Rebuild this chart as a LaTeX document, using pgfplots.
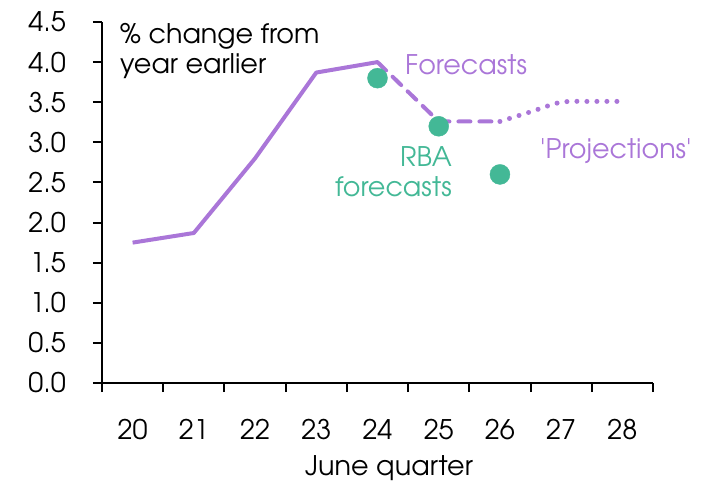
\documentclass[border=0pt]{standalone}
\usepackage{pgfplots}
\pgfplotsset{compat=1.18}
\usepackage{fontspec}
\setmainfont{TeX Gyre Adventor}
\definecolor{lpurple}{RGB}{170,118,216}
\definecolor{rbagreen}{RGB}{67,184,150}
\begin{document}
\fontsize{27}{34}\selectfont
\begin{tikzpicture}
\useasboundingbox (-102pt,-97pt) rectangle (610pt,383pt);
\begin{axis}[
  at={(0pt,0pt)}, anchor=south west,
  scale only axis, width=551pt, height=361pt,
  xmin=19.5, xmax=28.5, ymin=0, ymax=4.5,
  axis x line=bottom, axis y line=left,
  axis line style={-, line width=2pt, black},
  xtick={19.5,20.5,21.5,22.5,23.5,24.5,25.5,26.5,27.5,28.5},
  xticklabels={},
  extra x ticks={20,21,22,23,24,25,26,27,28},
  extra x tick labels={20,21,22,23,24,25,26,27,28},
  extra x tick style={tick style={draw=none}, xticklabel style={anchor=north, inner sep=0pt, yshift=-27pt}},
  ytick={0,0.5,1,1.5,2,2.5,3,3.5,4,4.5},
  yticklabel style={anchor=east, inner sep=0pt, xshift=-27pt, /pgf/number format/.cd, fixed, fixed zerofill, precision=1},
  tick align=outside, major tick length=9pt,
  tick style={black, line width=2pt},
  /pgf/number format/assume math mode=true,
  clip=false,
]
\addplot[lpurple, line width=4pt, line join=round] coordinates {(20,1.75)(21,1.87)(22,2.8)(23,3.87)(24,4.0)};
\addplot[lpurple, line width=4pt, dash pattern=on 12pt off 9pt, line cap=round, line join=round] coordinates {(24,4.0)(25,3.26)(26,3.26)};
\addplot[lpurple, line width=5pt, line cap=round, dash pattern=on 0pt off 10pt, smooth, tension=0.5] coordinates {(26,3.26)(26.5,3.38)(27,3.5)(27.5,3.51)(28,3.51)};
\addplot[only marks, mark=*, mark size=10pt, color=rbagreen, mark options={draw=none, fill=rbagreen}] coordinates {(24,3.8)(25,3.2)(26,2.6)};
\end{axis}
\node[anchor=base west, inner sep=0pt] at (18pt,339.7pt) {\% change from};
\node[anchor=base west, inner sep=0pt] at (18pt,309.7pt) {year earlier};
\node[anchor=base west, inner sep=0pt, text=lpurple] at (303pt,308pt) {Forecasts};
\node[anchor=base west, inner sep=0pt, text=lpurple] at (438pt,224.7pt) {\textquotesingle Projections\textquotesingle};
\node[anchor=base east, inner sep=0pt, text=rbagreen] at (350pt,217pt) {RBA};
\node[anchor=base east, inner sep=0pt, text=rbagreen] at (350pt,186.3pt) {forecasts};
\node[anchor=base west, inner sep=0pt] at (203pt,-92pt) {June quarter};
\end{tikzpicture}
\end{document}
